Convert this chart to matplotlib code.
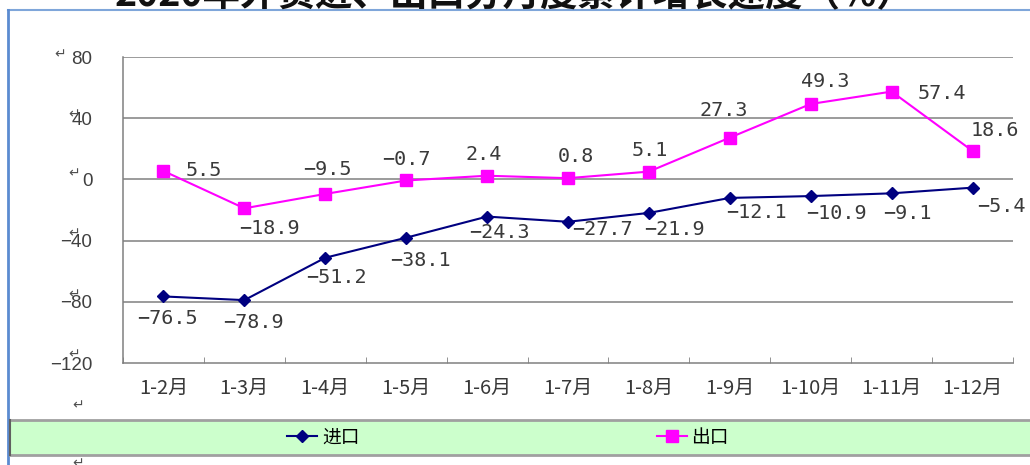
import matplotlib
matplotlib.use("Agg")
import matplotlib.pyplot as plt
from matplotlib.lines import Line2D
from matplotlib.patches import Rectangle
import numpy as np

plt.rcParams['font.family'] = ['Noto Sans CJK SC', 'DejaVu Sans']

categories = ['1-2月', '1-3月', '1-4月', '1-5月', '1-6月', '1-7月',
              '1-8月', '1-9月', '1-10月', '1-11月', '1-12月']
imports = [-76.5, -78.9, -51.2, -38.1, -24.3, -27.7, -21.9, -12.1, -10.9, -9.1, -5.4]
exports = [5.5, -18.9, -9.5, -0.7, 2.4, 0.8, 5.1, 27.3, 49.3, 57.4, 18.6]
yticks = [-120, -80, -40, 0, 40, 80]
title = '2020年外贸进、出口分月度累计增长速度（%）'
legend_labels = ['进口', '出口']

# label offsets in pixels (dx, dy)
exp_off = [(40, 0), (25, -20), (2, 24), (0, 21), (-3, 21), (8, 22), (1, 21),
           (-6, 27), (15, 22), (50, -2), (22, 20)]
imp_off = [(4, -22), (9, -22), (11, -20), (14, -23), (12, -16), (34, -8),
           (26, -17), (27, -15), (26, -17), (16, -20), (29, -19)]

W, H = 1030, 465
fig = plt.figure(figsize=(W / 100, H / 100), dpi=100)
fig.patch.set_facecolor('white')

ax = fig.add_axes([123 / W, 1 - 363 / H, (1013 - 123) / W, (363 - 57) / H])
x = np.arange(len(categories))
grid_c = '#808080'

ax.set_xlim(-0.5, len(categories) - 0.5)
ax.set_ylim(-120, 80)
ax.set_yticks(yticks)
ax.set_yticklabels([str(v).replace('-', '−') if v < 0 else str(v) for v in yticks],
                   family=['Liberation Sans'], fontsize=13.5, color='#404040')
for v in yticks:
    if v > -120:
        ax.axhline(v, color=grid_c, lw=1.1, zorder=1)
ax.tick_params(axis='y', length=0, pad=22)
ax.set_xticks(x)
ax.set_xticklabels(categories, fontsize=14.5, color='#383838')
ax.tick_params(axis='x', length=0, pad=11)
ax.set_xticks(np.arange(-0.5, len(categories), 1), minor=True)
ax.tick_params(axis='x', which='minor', direction='in', length=4, color=grid_c)
for s in ['top', 'right']:
    ax.spines[s].set_visible(False)
for s in ['left', 'bottom']:
    ax.spines[s].set_color(grid_c)
    ax.spines[s].set_linewidth(1.1)

ax.plot(x, imports, color='#000080', lw=1.5, marker='D', markersize=6,
        markerfacecolor='#000080', markeredgecolor='#000080', zorder=3)
ax.plot(x, exports, color='#FF00FF', lw=1.5, marker='s', markersize=9,
        markerfacecolor='#FF00FF', markeredgecolor='#FF00FF', zorder=3)

lab_font = dict(family=['DejaVu Sans Mono'], fontsize=14.5, color='#3a3a3a',
                ha='center', va='center')
for i, v in enumerate(exports):
    ax.annotate(f'{v:.1f}'.replace('-', '−'), (x[i], v), xytext=exp_off[i],
                textcoords='offset pixels', **lab_font)
for i, v in enumerate(imports):
    ax.annotate(f'{v:.1f}'.replace('-', '−'), (x[i], v), xytext=imp_off[i],
                textcoords='offset pixels', **lab_font)

# paragraph marks (document artifacts)
arrow_pos = [(60, 54), (74, 114), (74, 173), (74, 233), (74, 294), (74, 354),
             (78, 405), (78, 463)]
for (px, py) in arrow_pos:
    fig.text(px / W, 1 - py / H, '↵', family=['DejaVu Sans'], fontsize=10,
             color='#505050', ha='center', va='center')

# frame lines
fig.add_artist(Line2D([8 / W, 1], [1 - 10 / H, 1 - 10 / H], color='#7FA6DA', lw=1.5))
fig.add_artist(Line2D([8 / W, 8 / W], [0, 1 - 10 / H], color='#5B8BD0', lw=2))

# title (clipped at top)
fig.text(515 / W, 1 - 6 / H, title, fontsize=27, fontweight='bold', color='#111111',
         ha='center', va='baseline')

# legend band
fig.add_artist(Rectangle((10 / W, 1 - 455 / H), 1 - 10 / W, 35 / H,
                         transform=fig.transFigure, facecolor='#CCFFCC',
                         edgecolor='none', zorder=0))
fig.add_artist(Line2D([10 / W, 1], [1 - 420 / H] * 2, color='#A0A0A0', lw=2))
fig.add_artist(Line2D([10 / W, 1], [1 - 455 / H] * 2, color='#A0A0A0', lw=2))
fig.add_artist(Line2D([10 / W, 10 / W], [1 - 455 / H, 1 - 420 / H], color='#606060', lw=1.5))

handles = [Line2D([], [], color='#000080', lw=1.5, marker='D', markersize=6),
           Line2D([], [], color='#FF00FF', lw=1.5, marker='s', markersize=8)]
fig.legend(handles, legend_labels, loc='center', bbox_to_anchor=(508 / W, 1 - 437 / H),
           ncol=2, frameon=False, fontsize=13.5, handlelength=1.6, handletextpad=0.25,
           columnspacing=15.85)

fig.savefig('out.png', dpi=100)
